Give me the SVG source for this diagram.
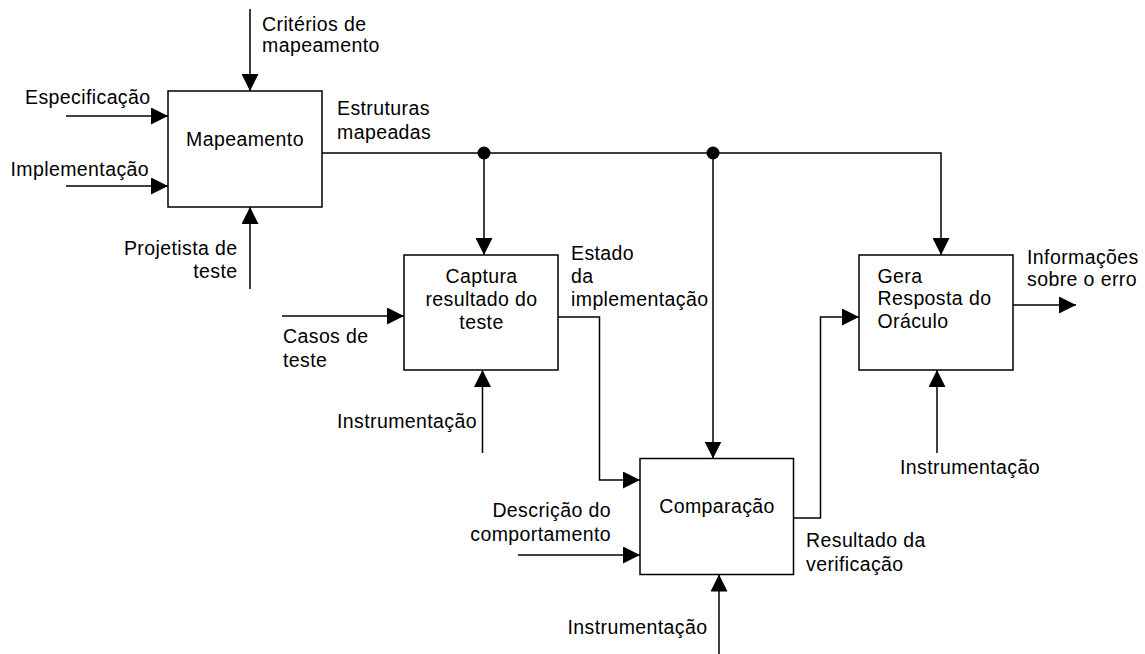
<svg xmlns="http://www.w3.org/2000/svg" width="1145" height="654" viewBox="0 0 1145 654">
  <style>
    .box { fill: #fff; stroke: #000; stroke-width: 1.5; }
    .wire { fill: none; stroke: #000; stroke-width: 1.5; }
    .arr { marker-end: url(#head); }
    text { font-family: "Liberation Sans", Arial, sans-serif; font-size: 19.5px; letter-spacing: 0.4px; fill: #000; }
    .mid { text-anchor: middle; }
    .end { text-anchor: end; }
  </style>
  <defs>
    <marker id="head" markerUnits="userSpaceOnUse" markerWidth="17" markerHeight="17" refX="17" refY="8.5" orient="auto">
      <path d="M0,0 L17,8.5 L0,17 Z" fill="#000"/>
    </marker>
  </defs>

  <rect width="1145" height="654" fill="#fff"/>

  <!-- connectors -->
  <g id="connectors">
    <path class="wire arr" d="M250,9 V91"/>
    <path class="wire arr" d="M66,116 H168"/>
    <path class="wire arr" d="M66,186 H168"/>
    <path class="wire arr" d="M250,289 V207"/>
    <path class="wire arr" d="M322,153 H941 V255"/>
    <path class="wire arr" d="M484,153 V255"/>
    <path class="wire arr" d="M713,153 V458.5"/>
    <circle cx="484" cy="153" r="6.5" fill="#000"/>
    <circle cx="713" cy="153" r="6.5" fill="#000"/>
    <path class="wire arr" d="M282,316 H404"/>
    <path class="wire arr" d="M558,317 H599.5 V480 H640"/>
    <path class="wire arr" d="M482.5,453 V370"/>
    <path class="wire arr" d="M518,555 H640"/>
    <path class="wire arr" d="M719,654 V574.5"/>
    <path class="wire arr" d="M793.5,518 H820.5 V317 H859"/>
    <path class="wire arr" d="M1013,305 H1076"/>
    <path class="wire arr" d="M937,453 V370"/>

    <!-- connector labels -->
    <text x="262" y="31">Critérios de</text>
    <text x="262" y="52">mapeamento</text>
    <text x="25" y="104">Especificação</text>
    <text x="10.5" y="175.5">Implementação</text>
    <text class="end" x="237.5" y="255">Projetista de</text>
    <text class="end" x="237.5" y="277.5">teste</text>
    <text x="337" y="115">Estruturas</text>
    <text x="337" y="139">mapeadas</text>
    <text x="571" y="259.5">Estado</text>
    <text x="571" y="282.5">da</text>
    <text x="571" y="306">implementação</text>
    <text x="283" y="343">Casos de</text>
    <text x="283" y="367">teste</text>
    <text class="end" x="477" y="428">Instrumentação</text>
    <text class="end" x="611" y="517">Descrição do</text>
    <text class="end" x="611" y="541">comportamento</text>
    <text class="end" x="707.5" y="633.5">Instrumentação</text>
    <text x="806" y="546.5">Resultado da</text>
    <text x="806" y="570.5">verificação</text>
    <text x="1027" y="264">Informações</text>
    <text x="1027" y="286">sobre o erro</text>
    <text x="900" y="474">Instrumentação</text>
  </g>

  <g id="mapeamento">
    <rect class="box" x="168" y="91" width="154" height="116"/>
    <text class="mid" x="245" y="146">Mapeamento</text>
  </g>

  <g id="captura">
    <rect class="box" x="404" y="255" width="154" height="115"/>
    <text class="mid" x="481.5" y="282.5">Captura</text>
    <text class="mid" x="481.5" y="305.5">resultado do</text>
    <text class="mid" x="481.5" y="329">teste</text>
  </g>

  <g id="comparacao">
    <rect class="box" x="640" y="458.5" width="153.5" height="116"/>
    <text class="mid" x="717" y="512.5">Comparação</text>
  </g>

  <g id="gera-resposta">
    <rect class="box" x="859" y="255" width="154" height="115"/>
    <text x="877.5" y="282.5">Gera</text>
    <text x="877.5" y="305">Resposta do</text>
    <text x="877.5" y="328">Oráculo</text>
  </g>
</svg>
